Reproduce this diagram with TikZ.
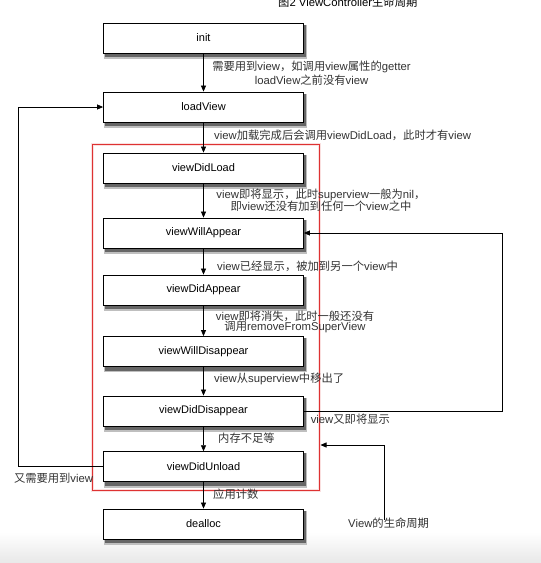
\documentclass[tikz,border=0pt]{standalone}
\usepackage{fontspec}
\setmainfont{Liberation Sans}
\newfontfamily\zhfont{Noto Sans CJK SC}
\newcommand\zc[1]{{\zhfont #1}}
\usetikzlibrary{arrows.meta,backgrounds,calc}
\definecolor{redbox}{RGB}{222,50,50}
\definecolor{txtgray}{RGB}{50,50,50}
\tikzset{
  every node/.style={font=\fontsize{11}{13.3}\selectfont},
  stagebox/.style={draw=black, line width=0.8pt, fill=white, minimum width=200pt, minimum height=30pt, inner sep=0pt},
  shadowA/.style={fill=black!25},
  shadowB/.style={fill=black!60},
  flow/.style={draw=black, line width=0.7pt, -{Triangle[length=6pt,width=5pt]}},
  note/.style={text=txtgray, inner sep=0pt, anchor=west, font=\fontsize{11.3}{13.3}\selectfont},
  cnote/.style={text=txtgray, inner sep=0pt, align=center, font=\fontsize{11.3}{13.3}\selectfont},
}
\begin{document}
\begin{tikzpicture}[x=1pt,y=-1pt]
\useasboundingbox (0,0) rectangle (541,563);
% boxes
\node[stagebox] (init) at (203.5,38) {init};
\node[stagebox] (load) at (203.5,107) {loadView};
\node[stagebox] (didload) at (203.5,168) {viewDidLoad};
\node[stagebox] (willapp) at (203.5,233) {viewWillAppear};
\node[stagebox] (didapp) at (203.5,290) {viewDidAppear};
\node[stagebox] (willdis) at (203.5,351.5) {viewWillDisappear};
\node[stagebox] (diddis) at (203.5,411) {viewDidDisappear};
\node[stagebox] (unload) at (203.5,466.7) {viewDidUnload};
\node[stagebox] (dealloc) at (203.5,524) {dealloc};
\begin{pgfonlayer}{background}
\shade[top color=white, bottom color=black!9] (0,532) rectangle (541,563);
\foreach \n in {init,load,didload,willapp,didapp,willdis,diddis,unload,dealloc}{
  \fill[shadowA] ($(\n.south west)+(1,5.5)$) rectangle ($(\n.north east)+(3,2)$);
  \fill[shadowB] ($(\n.south west)+(1.5,3.8)$) rectangle ($(\n.north east)+(2,2)$);
}
\end{pgfonlayer}
% title
\node[note, text=black] (title) at (278,2.5) {\zc{图}2 ViewController\zc{生命周期}};
% red frame
\draw[line width=3pt, redbox!15] (92.5,144) rectangle (319,490);
\draw[line width=0.8pt, redbox] (92.5,144) rectangle (319,490);
\coordinate (redE) at (320.5,445);
% main arrows
\draw[flow] (init) -- (load);
\draw[flow] (load) -- (didload);
\draw[flow] (didload) -- (willapp);
\draw[flow] (willapp) -- (didapp);
\draw[flow] (didapp) -- (willdis);
\draw[flow] (willdis) -- (diddis);
\draw[flow] (diddis) -- (unload);
\draw[flow] (unload) -- (dealloc);
% loops
\draw[flow] (unload.west) -- ++(-84.5,0) |- (load.west);
\draw[flow] (diddis.east) -- ++(198.5,0) |- (willapp.east);
% labels
\node[cnote] (l1) at (311.5,73.3) {\zc{需要用到}view\zc{，如调用}view\zc{属性的}getter\\loadView\zc{之前没有}view};
\node[note] (l2) at (214,135) {view\zc{加载完成后会调用}viewDidLoad\zc{，此时才有}view};
\node[cnote] (l3) at (321,200) {view\zc{即将显示，此时}superview\zc{一般为}nil\zc{，}\\[-1.5pt]\zc{即}view\zc{还没有加到任何一个}view\zc{之中}};
\node[note] (l4) at (217,266.7) {view\zc{已经显示，被加到另一个}view\zc{中}};
\node[cnote] (l5) at (295,322) {view\zc{即将消失，此时一般还没有}\\[-2.5pt]\zc{调用}removeFromSuperView};
\node[note] (l6) at (214,379.3) {view\zc{从}superview\zc{中移出了}};
\node[note] (l7) at (310.6,419) {view\zc{又即将显示}};
\node[note] (l8) at (218,438.3) {\zc{内存不足等}};
\node[note] (l9) at (13.8,478) {\zc{又需要用到}view};
\node[note] (l10) at (213,494.3) {\zc{应用计数}};
\node[note] (life) at (348,523) {View\zc{的生命周期}};
\draw[flow] ([xshift=-4.7pt,yshift=-2pt]life.north) |- (redE);
\end{tikzpicture}
\end{document}
